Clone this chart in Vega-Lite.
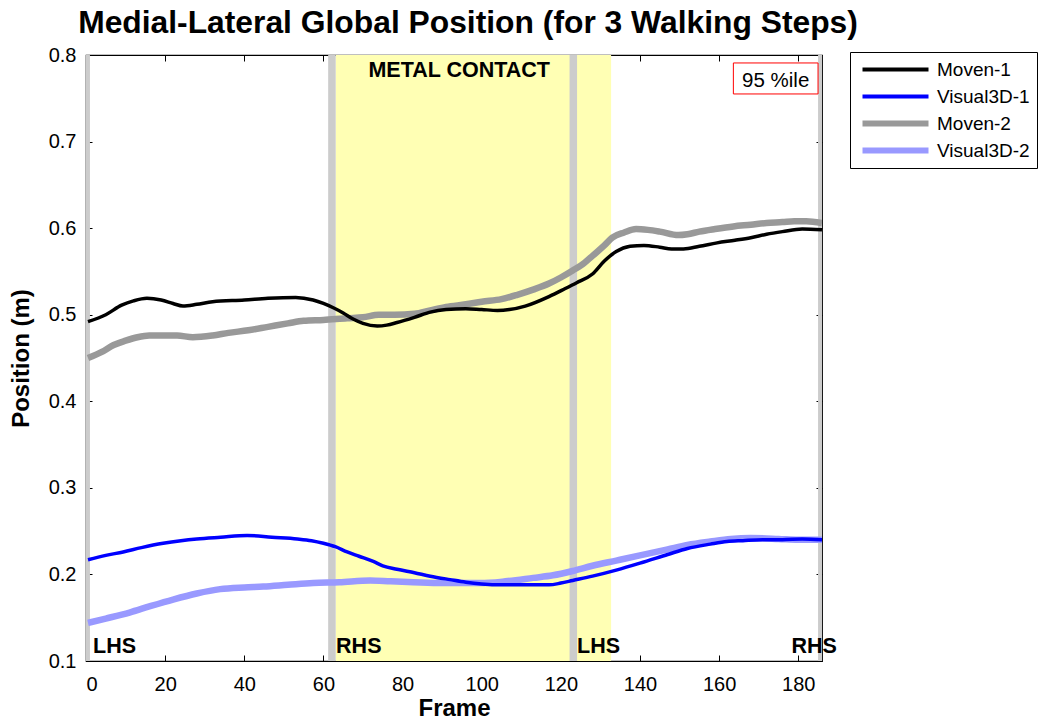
{
  "$schema": "https://vega.github.io/schema/vega-lite/v6.json",
  "autosize": {"type": "none"},
  "padding": {"left": 86, "top": 55, "right": 224, "bottom": 62},
  "width": 736,
  "height": 606,
  "background": "white",
  "config": {
    "font": "Liberation Sans",
    "view": {"stroke": "black", "strokeWidth": 1.2},
    "axis": {"grid": false, "domain": false, "tickColor": "black", "labelColor": "black", "titleColor": "black", "labelFont": "Liberation Sans", "titleFont": "Liberation Sans", "labelFontSize": 20, "titleFontSize": 24, "titleFontWeight": "bold", "tickSize": -6, "tickWidth": 1}
  },
  "title": {"text": "Medial-Lateral Global Position (for 3 Walking Steps)", "fontSize": 31.8, "fontWeight": "bold", "font": "Liberation Sans", "anchor": "middle", "offset": 5, "dx": 14, "color": "black"},
  "datasets": {
    "bands": [
      {"kind": "yellow", "start": 63.1, "end": 132.7},
      {"kind": "gray", "start": 0, "end": 1},
      {"kind": "gray", "start": 61.2, "end": 63.1},
      {"kind": "gray", "start": 122.2, "end": 124.1},
      {"kind": "gray", "start": 185, "end": 186}
    ],
    "labels": [
      {"label": "LHS", "frame": 1.8, "pos": 0.109},
      {"label": "RHS", "frame": 63.2, "pos": 0.109},
      {"label": "LHS", "frame": 124.1, "pos": 0.109},
      {"label": "RHS", "frame": 178.3, "pos": 0.109}
    ],
    "notes": [
      {"label": "METAL CONTACT", "frame": 94.3, "pos": 0.775}
    ],
    "box": [
      {"label": "95 %ile", "x1": 163.6, "x2": 185.0, "y1": 0.7908, "y2": 0.755, "tx": 174.3, "ty": 0.7625}
    ],
    "lines": [
      {"series": "Moven-1", "frame": 0.5, "pos": 0.492},
      {"series": "Moven-1", "frame": 5, "pos": 0.5},
      {"series": "Moven-1", "frame": 9, "pos": 0.511},
      {"series": "Moven-1", "frame": 12, "pos": 0.516},
      {"series": "Moven-1", "frame": 15.4, "pos": 0.519},
      {"series": "Moven-1", "frame": 19, "pos": 0.517},
      {"series": "Moven-1", "frame": 22, "pos": 0.513},
      {"series": "Moven-1", "frame": 24.5, "pos": 0.51},
      {"series": "Moven-1", "frame": 28, "pos": 0.512},
      {"series": "Moven-1", "frame": 32, "pos": 0.515},
      {"series": "Moven-1", "frame": 40, "pos": 0.517},
      {"series": "Moven-1", "frame": 46, "pos": 0.519},
      {"series": "Moven-1", "frame": 53, "pos": 0.52},
      {"series": "Moven-1", "frame": 57.4, "pos": 0.517},
      {"series": "Moven-1", "frame": 60, "pos": 0.513},
      {"series": "Moven-1", "frame": 62.5, "pos": 0.508},
      {"series": "Moven-1", "frame": 65, "pos": 0.502},
      {"series": "Moven-1", "frame": 67.5, "pos": 0.495},
      {"series": "Moven-1", "frame": 70, "pos": 0.49},
      {"series": "Moven-1", "frame": 73.6, "pos": 0.487},
      {"series": "Moven-1", "frame": 76, "pos": 0.488},
      {"series": "Moven-1", "frame": 78.6, "pos": 0.491},
      {"series": "Moven-1", "frame": 83, "pos": 0.497},
      {"series": "Moven-1", "frame": 87, "pos": 0.503},
      {"series": "Moven-1", "frame": 91, "pos": 0.506},
      {"series": "Moven-1", "frame": 96, "pos": 0.507},
      {"series": "Moven-1", "frame": 100, "pos": 0.506},
      {"series": "Moven-1", "frame": 104, "pos": 0.505},
      {"series": "Moven-1", "frame": 107, "pos": 0.506},
      {"series": "Moven-1", "frame": 111, "pos": 0.51},
      {"series": "Moven-1", "frame": 117, "pos": 0.521},
      {"series": "Moven-1", "frame": 121, "pos": 0.53},
      {"series": "Moven-1", "frame": 124, "pos": 0.537},
      {"series": "Moven-1", "frame": 128, "pos": 0.547},
      {"series": "Moven-1", "frame": 131, "pos": 0.562},
      {"series": "Moven-1", "frame": 134, "pos": 0.573},
      {"series": "Moven-1", "frame": 137.5, "pos": 0.579},
      {"series": "Moven-1", "frame": 141, "pos": 0.58},
      {"series": "Moven-1", "frame": 145, "pos": 0.578},
      {"series": "Moven-1", "frame": 148, "pos": 0.576},
      {"series": "Moven-1", "frame": 151, "pos": 0.576},
      {"series": "Moven-1", "frame": 155, "pos": 0.579},
      {"series": "Moven-1", "frame": 159.5, "pos": 0.583},
      {"series": "Moven-1", "frame": 164, "pos": 0.586},
      {"series": "Moven-1", "frame": 168, "pos": 0.589},
      {"series": "Moven-1", "frame": 172, "pos": 0.593},
      {"series": "Moven-1", "frame": 176, "pos": 0.596},
      {"series": "Moven-1", "frame": 181, "pos": 0.599},
      {"series": "Moven-1", "frame": 186, "pos": 0.598},
      {"series": "Visual3D-1", "frame": 0.5, "pos": 0.217},
      {"series": "Visual3D-1", "frame": 5, "pos": 0.222},
      {"series": "Visual3D-1", "frame": 9.4, "pos": 0.226},
      {"series": "Visual3D-1", "frame": 14, "pos": 0.231},
      {"series": "Visual3D-1", "frame": 19.5, "pos": 0.236},
      {"series": "Visual3D-1", "frame": 24, "pos": 0.239},
      {"series": "Visual3D-1", "frame": 28, "pos": 0.241},
      {"series": "Visual3D-1", "frame": 34, "pos": 0.243},
      {"series": "Visual3D-1", "frame": 40.7, "pos": 0.245},
      {"series": "Visual3D-1", "frame": 47, "pos": 0.243},
      {"series": "Visual3D-1", "frame": 53.4, "pos": 0.241},
      {"series": "Visual3D-1", "frame": 57, "pos": 0.239},
      {"series": "Visual3D-1", "frame": 60, "pos": 0.236},
      {"series": "Visual3D-1", "frame": 63, "pos": 0.232},
      {"series": "Visual3D-1", "frame": 66, "pos": 0.226},
      {"series": "Visual3D-1", "frame": 69, "pos": 0.221},
      {"series": "Visual3D-1", "frame": 72.6, "pos": 0.215},
      {"series": "Visual3D-1", "frame": 75, "pos": 0.21},
      {"series": "Visual3D-1", "frame": 78.6, "pos": 0.206},
      {"series": "Visual3D-1", "frame": 83, "pos": 0.202},
      {"series": "Visual3D-1", "frame": 87, "pos": 0.198},
      {"series": "Visual3D-1", "frame": 92, "pos": 0.194},
      {"series": "Visual3D-1", "frame": 96, "pos": 0.191},
      {"series": "Visual3D-1", "frame": 100, "pos": 0.189},
      {"series": "Visual3D-1", "frame": 105, "pos": 0.188},
      {"series": "Visual3D-1", "frame": 110, "pos": 0.188},
      {"series": "Visual3D-1", "frame": 117, "pos": 0.188},
      {"series": "Visual3D-1", "frame": 120, "pos": 0.19},
      {"series": "Visual3D-1", "frame": 123, "pos": 0.193},
      {"series": "Visual3D-1", "frame": 128, "pos": 0.198},
      {"series": "Visual3D-1", "frame": 134, "pos": 0.205},
      {"series": "Visual3D-1", "frame": 140, "pos": 0.213},
      {"series": "Visual3D-1", "frame": 147, "pos": 0.223},
      {"series": "Visual3D-1", "frame": 152, "pos": 0.23},
      {"series": "Visual3D-1", "frame": 157.8, "pos": 0.235},
      {"series": "Visual3D-1", "frame": 162, "pos": 0.238},
      {"series": "Visual3D-1", "frame": 166, "pos": 0.239},
      {"series": "Visual3D-1", "frame": 171, "pos": 0.24},
      {"series": "Visual3D-1", "frame": 176, "pos": 0.24},
      {"series": "Visual3D-1", "frame": 181, "pos": 0.241},
      {"series": "Visual3D-1", "frame": 186, "pos": 0.24},
      {"series": "Moven-2", "frame": 0.5, "pos": 0.45},
      {"series": "Moven-2", "frame": 4, "pos": 0.457},
      {"series": "Moven-2", "frame": 7, "pos": 0.465},
      {"series": "Moven-2", "frame": 10, "pos": 0.47},
      {"series": "Moven-2", "frame": 13, "pos": 0.474},
      {"series": "Moven-2", "frame": 16, "pos": 0.476},
      {"series": "Moven-2", "frame": 23, "pos": 0.476},
      {"series": "Moven-2", "frame": 27, "pos": 0.474},
      {"series": "Moven-2", "frame": 32, "pos": 0.476},
      {"series": "Moven-2", "frame": 36, "pos": 0.479},
      {"series": "Moven-2", "frame": 41, "pos": 0.482},
      {"series": "Moven-2", "frame": 46, "pos": 0.486},
      {"series": "Moven-2", "frame": 51, "pos": 0.49},
      {"series": "Moven-2", "frame": 55, "pos": 0.493},
      {"series": "Moven-2", "frame": 60, "pos": 0.494},
      {"series": "Moven-2", "frame": 66, "pos": 0.496},
      {"series": "Moven-2", "frame": 70, "pos": 0.497},
      {"series": "Moven-2", "frame": 74, "pos": 0.5},
      {"series": "Moven-2", "frame": 78, "pos": 0.5},
      {"series": "Moven-2", "frame": 83, "pos": 0.501},
      {"series": "Moven-2", "frame": 87, "pos": 0.505},
      {"series": "Moven-2", "frame": 91, "pos": 0.509},
      {"series": "Moven-2", "frame": 96, "pos": 0.512},
      {"series": "Moven-2", "frame": 100, "pos": 0.515},
      {"series": "Moven-2", "frame": 105, "pos": 0.518},
      {"series": "Moven-2", "frame": 109, "pos": 0.523},
      {"series": "Moven-2", "frame": 113, "pos": 0.529},
      {"series": "Moven-2", "frame": 117, "pos": 0.536},
      {"series": "Moven-2", "frame": 120, "pos": 0.543},
      {"series": "Moven-2", "frame": 123, "pos": 0.551},
      {"series": "Moven-2", "frame": 126, "pos": 0.56},
      {"series": "Moven-2", "frame": 128, "pos": 0.568},
      {"series": "Moven-2", "frame": 131, "pos": 0.58},
      {"series": "Moven-2", "frame": 133, "pos": 0.589},
      {"series": "Moven-2", "frame": 136, "pos": 0.595},
      {"series": "Moven-2", "frame": 139, "pos": 0.599},
      {"series": "Moven-2", "frame": 142, "pos": 0.598},
      {"series": "Moven-2", "frame": 145, "pos": 0.596},
      {"series": "Moven-2", "frame": 149.7, "pos": 0.592},
      {"series": "Moven-2", "frame": 152, "pos": 0.593},
      {"series": "Moven-2", "frame": 155, "pos": 0.596},
      {"series": "Moven-2", "frame": 159, "pos": 0.599},
      {"series": "Moven-2", "frame": 163.6, "pos": 0.602},
      {"series": "Moven-2", "frame": 168, "pos": 0.604},
      {"series": "Moven-2", "frame": 172, "pos": 0.606},
      {"series": "Moven-2", "frame": 176, "pos": 0.607},
      {"series": "Moven-2", "frame": 179, "pos": 0.608},
      {"series": "Moven-2", "frame": 182, "pos": 0.608},
      {"series": "Moven-2", "frame": 186, "pos": 0.606},
      {"series": "Visual3D-2", "frame": 0.5, "pos": 0.144},
      {"series": "Visual3D-2", "frame": 5, "pos": 0.149},
      {"series": "Visual3D-2", "frame": 11, "pos": 0.156},
      {"series": "Visual3D-2", "frame": 16, "pos": 0.163},
      {"series": "Visual3D-2", "frame": 22, "pos": 0.171},
      {"series": "Visual3D-2", "frame": 28, "pos": 0.178},
      {"series": "Visual3D-2", "frame": 33.9, "pos": 0.183},
      {"series": "Visual3D-2", "frame": 40, "pos": 0.185},
      {"series": "Visual3D-2", "frame": 44.8, "pos": 0.186},
      {"series": "Visual3D-2", "frame": 51, "pos": 0.188},
      {"series": "Visual3D-2", "frame": 57.4, "pos": 0.19},
      {"series": "Visual3D-2", "frame": 64, "pos": 0.191},
      {"series": "Visual3D-2", "frame": 71.8, "pos": 0.193},
      {"series": "Visual3D-2", "frame": 77, "pos": 0.192},
      {"series": "Visual3D-2", "frame": 82.7, "pos": 0.191},
      {"series": "Visual3D-2", "frame": 90, "pos": 0.19},
      {"series": "Visual3D-2", "frame": 99.6, "pos": 0.19},
      {"series": "Visual3D-2", "frame": 106, "pos": 0.192},
      {"series": "Visual3D-2", "frame": 113, "pos": 0.196},
      {"series": "Visual3D-2", "frame": 118, "pos": 0.199},
      {"series": "Visual3D-2", "frame": 123, "pos": 0.204},
      {"series": "Visual3D-2", "frame": 128, "pos": 0.21},
      {"series": "Visual3D-2", "frame": 134, "pos": 0.216},
      {"series": "Visual3D-2", "frame": 140, "pos": 0.222},
      {"series": "Visual3D-2", "frame": 147, "pos": 0.229},
      {"series": "Visual3D-2", "frame": 152, "pos": 0.234},
      {"series": "Visual3D-2", "frame": 157.8, "pos": 0.238},
      {"series": "Visual3D-2", "frame": 163, "pos": 0.241},
      {"series": "Visual3D-2", "frame": 168, "pos": 0.242},
      {"series": "Visual3D-2", "frame": 175, "pos": 0.241},
      {"series": "Visual3D-2", "frame": 180, "pos": 0.24},
      {"series": "Visual3D-2", "frame": 186, "pos": 0.24}
    ]
  },
  "layer": [
    {
      "data": {"name": "bands"},
      "mark": {"type": "rect", "clip": true},
      "encoding": {
        "x": {"field": "start", "type": "quantitative", "scale": {"domain": [0, 186], "nice": false, "zero": false}, "axis": {"values": [0, 20, 40, 60, 80, 100, 120, 140, 160, 180], "orient": "bottom", "title": "Frame", "labelPadding": 19, "titlePadding": 2}},
        "x2": {"field": "end"},
        "y": {"datum": 0.1, "type": "quantitative", "scale": {"domain": [0.1, 0.8], "nice": false, "zero": false}, "axis": {"values": [0.1, 0.2, 0.3, 0.4, 0.5, 0.6, 0.7, 0.8], "format": ".1f", "orient": "left", "title": "Position (m)", "labelPadding": 16, "titlePadding": 15}},
        "y2": {"datum": 0.8},
        "fill": {"field": "kind", "type": "nominal", "scale": {"domain": ["yellow", "gray"], "range": ["#ffffb4", "#cccccc"]}, "legend": null}
      }
    },
    {
      "data": {"name": "lines"},
      "transform": [{"filter": "datum.series === 'Moven-2' || datum.series === 'Visual3D-2'"}],
      "mark": {"type": "line", "interpolate": "monotone", "clip": true, "strokeWidth": 6.5},
      "encoding": {
        "x": {"field": "frame", "type": "quantitative", "axis": {"orient": "top", "labels": false, "title": null, "values": [0, 20, 40, 60, 80, 100, 120, 140, 160, 180]}},
        "y": {"field": "pos", "type": "quantitative", "axis": {"orient": "right", "labels": false, "title": null, "values": [0.1, 0.2, 0.3, 0.4, 0.5, 0.6, 0.7, 0.8]}},
        "stroke": {"field": "series", "type": "nominal", "scale": {"domain": ["Moven-1", "Visual3D-1", "Moven-2", "Visual3D-2"], "range": ["#000000", "#0000ff", "#999999", "#9999ff"]},
          "legend": {"title": null, "orient": "none", "legendX": 764, "legendY": -3, "strokeColor": "black", "fillColor": "white", "padding": 7, "symbolType": "stroke", "symbolSize": 4356, "symbolStrokeWidth": 4, "symbolOffset": 29, "clipHeight": 21, "labelFontSize": 19, "labelFont": "Liberation Sans", "labelColor": "black", "rowPadding": 6, "labelOffset": 32, "cornerRadius": 0,
            "encode": {"symbols": {"update": {"strokeWidth": {"signal": "datum.value === 'Moven-2' || datum.value === 'Visual3D-2' ? 6 : 4"}}}}}},
        "order": {"field": "frame", "type": "quantitative"}
      }
    },
    {
      "data": {"name": "lines"},
      "transform": [{"filter": "datum.series === 'Moven-1' || datum.series === 'Visual3D-1'"}],
      "mark": {"type": "line", "interpolate": "monotone", "clip": true, "strokeWidth": 3.5},
      "encoding": {
        "x": {"field": "frame", "type": "quantitative", "axis": null},
        "y": {"field": "pos", "type": "quantitative", "axis": null},
        "stroke": {"field": "series", "type": "nominal"},
        "order": {"field": "frame", "type": "quantitative"}
      }
    },
    {
      "data": {"name": "labels"},
      "mark": {"type": "text", "fontWeight": "bold", "fontSize": 21.5, "align": "left", "baseline": "alphabetic", "color": "black"},
      "encoding": {
        "x": {"field": "frame", "type": "quantitative", "axis": null},
        "y": {"field": "pos", "type": "quantitative", "axis": null},
        "text": {"field": "label"}
      }
    },
    {
      "data": {"name": "notes"},
      "mark": {"type": "text", "fontWeight": "bold", "fontSize": 21.5, "align": "center", "baseline": "alphabetic", "color": "black"},
      "encoding": {
        "x": {"field": "frame", "type": "quantitative", "axis": null},
        "y": {"field": "pos", "type": "quantitative", "axis": null},
        "text": {"field": "label"}
      }
    },
    {
      "data": {"name": "box"},
      "mark": {"type": "rect", "fill": "white", "stroke": "red", "strokeWidth": 1},
      "encoding": {
        "x": {"field": "x1", "type": "quantitative", "axis": null},
        "x2": {"field": "x2"},
        "y": {"field": "y1", "type": "quantitative", "axis": null},
        "y2": {"field": "y2"}
      }
    },
    {
      "data": {"name": "box"},
      "mark": {"type": "text", "fontSize": 20.5, "align": "center", "baseline": "alphabetic", "color": "black"},
      "encoding": {
        "x": {"field": "tx", "type": "quantitative", "axis": null},
        "y": {"field": "ty", "type": "quantitative", "axis": null},
        "text": {"field": "label"}
      }
    }
  ],
  "resolve": {"axis": {"x": "independent", "y": "independent"}}
}
